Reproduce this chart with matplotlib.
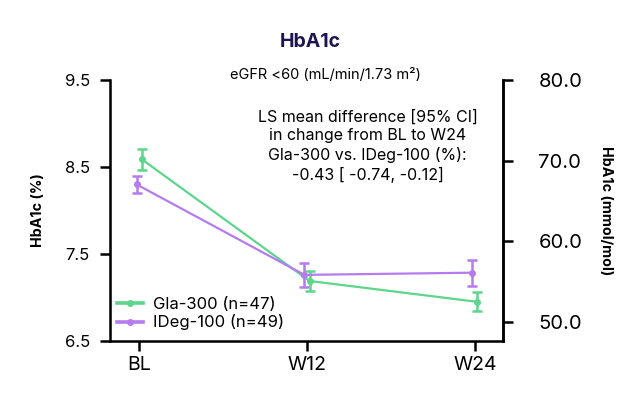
import matplotlib.pyplot as plt
from matplotlib.lines import Line2D

## data
visits = ['BL', 'W12', 'W24']
gla_mean = [8.59, 7.19, 6.95]
gla_err = [0.12, 0.11, 0.11]
ideg_mean = [8.30, 7.26, 7.285]
ideg_err = [0.10, 0.14, 0.15]
pct_ticks = [6.5, 7.5, 8.5, 9.5]
mmol_ticks = [50, 60, 70, 80]

GREEN = '#5dd68b'
PURPLE = '#b57bef'
NAVY = '#1e1450'

plt.rcParams['font.family'] = ['Inter', 'DejaVu Sans']

fig = plt.figure(figsize=(6.24, 3.96), dpi=100)
ax = fig.add_axes([0.1763, 0.1389, 0.6297, 0.6591])

x = range(len(visits))
ax.errorbar([i + 0.015 for i in x], gla_mean, yerr=gla_err, color=GREEN, lw=1.6,
            marker='o', ms=4, capsize=3.5, elinewidth=1.8, capthick=1.8)
ax.errorbar([i - 0.015 for i in x], ideg_mean, yerr=ideg_err, color=PURPLE, lw=1.6,
            marker='o', ms=4, capsize=3.5, elinewidth=1.8, capthick=1.8)

ax.set_xlim(-0.173, 2.167)
ax.set_ylim(6.5, 9.5)
ax.set_xticks(list(x))
ax.set_xticklabels(visits)
ax.set_yticks(pct_ticks)
ax.set_yticklabels([f'{v:.1f}' for v in pct_ticks])
ax.set_ylabel('HbA1c (%)', fontsize=10.3, fontweight='bold', labelpad=14)

ax.spines['top'].set_visible(False)
for side in ['left', 'bottom', 'right']:
    ax.spines[side].set_linewidth(1.8)
ax.yaxis.set_tick_params(width=1.8, length=7.5, pad=7, labelsize=12)
ax.xaxis.set_tick_params(width=1.8, length=7.5, pad=3, labelsize=14)

## right axis in mmol/mol
ax2 = ax.twinx()
ax2.set_ylim(47.6, 80.0)
ax2.set_yticks(mmol_ticks)
ax2.set_yticklabels([f'{v:.1f}' for v in mmol_ticks])
ax2.yaxis.set_tick_params(width=1.8, length=7.5, pad=18, labelsize=14.5)
ax2.set_ylabel('HbA1c (mmol/mol)', fontsize=10.3, fontweight='bold', rotation=270,
               labelpad=22)
ax2.spines['top'].set_visible(False)
ax2.spines['right'].set_linewidth(1.8)

handles = [Line2D([], [], color=GREEN, lw=2.6, marker='o', ms=4),
           Line2D([], [], color=PURPLE, lw=2.6, marker='o', ms=4)]
ax.legend(handles, ['Gla-300 (n=47)', 'IDeg-100 (n=49)'], loc='lower left',
          bbox_to_anchor=(0.0, 0.015), borderaxespad=0, borderpad=0.4,
          frameon=False, fontsize=12, handlelength=1.55, handletextpad=0.6,
          labelspacing=0.15)

fig.text(0.497, 0.894, 'HbA1c', ha='center', va='center', fontsize=14,
         fontweight='bold', color=NAVY)
fig.text(0.521, 0.811, 'eGFR <60 (mL/min/1.73 m\u00b2)', ha='center', va='center',
         fontsize=10.5)
fig.text(0.589, 0.631, 'LS mean difference [95% CI]\nin change from BL to W24\n'
         'Gla-300 vs. IDeg-100 (%):\n-0.43 [ -0.74, -0.12]',
         ha='center', va='center', fontsize=11.5, linespacing=1.3)

plt.savefig('out.png', dpi=100)
